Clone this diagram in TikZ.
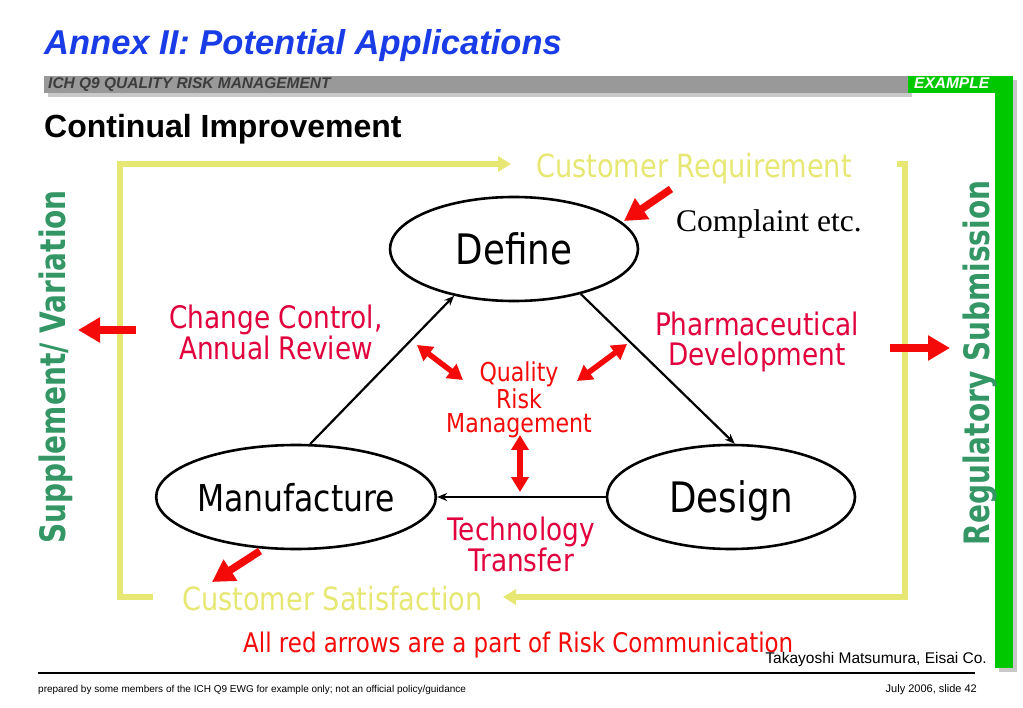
\documentclass[tikz,border=0pt]{standalone}
\usepackage{fontspec}
\setmainfont{Liberation Sans}
\newfontfamily\tahoma[FakeStretch=0.85]{DejaVu Sans}
\newfontfamily\tahomabf[FakeStretch=0.8]{DejaVu Sans}
\newfontfamily\timesfont{Liberation Serif}
\usetikzlibrary{arrows.meta,shapes.geometric}

\newcommand\sz[2]{\fontsize{#1}{#2}\selectfont}

\definecolor{titleblue}{RGB}{25,60,230}
\definecolor{barGray}{RGB}{153,153,153}
\definecolor{shadowGray}{RGB}{200,200,200}
\definecolor{hdrText}{RGB}{60,60,60}
\definecolor{exGreen}{RGB}{0,200,0}
\definecolor{loopYellow}{RGB}{230,232,115}
\definecolor{sideGreen}{RGB}{51,150,100}
\definecolor{riskRed}{RGB}{245,10,10}
\definecolor{labelRed}{RGB}{225,0,60}

\begin{document}
\begin{tikzpicture}[x=1pt, y=-1pt,
    stage/.style={ellipse, draw, line width=2.6pt, minimum width=248pt,
      minimum height=104pt, inner sep=0pt, text depth=0pt},
    flow/.style={line width=2.2pt, -{Stealth[length=10pt,width=8pt]}},
    loopline/.style={loopYellow, line width=5.5pt},
    loopend/.style={loopline, -{Triangle[length=13pt,width=15pt]}},
    comm/.style={riskRed, line width=7.5pt, -{Triangle[length=22pt,width=24pt]}},
    talk/.style={riskRed, line width=5.5pt,
      {Triangle[length=15pt,width=17pt]}-{Triangle[length=15pt,width=17pt]}},
    steplabel/.style={labelRed, anchor=north, inner sep=0pt, align=center,
      font=\tahoma\sz{31}{30}},
    plain/.style={inner sep=0pt}]

  % --- page ---
  \useasboundingbox (0,0) rectangle (1023,708);
  \fill[white] (0,0) rectangle (1023,708);

  % --- header bar and green frame ---
  \fill[shadowGray] (48,80) rectangle (912,97);
  \fill[barGray] (44,76) rectangle (908,93);
  \fill[shadowGray] (999,80) rectangle (1017,672);
  \fill[exGreen] (908,76) rectangle (1013,93);
  \fill[exGreen] (995,76) rectangle (1013,668);

  \node[plain, anchor=base west, titleblue, font=\bfseries\itshape\sz{34.5}{40}]
    (title) at (44,55) {Annex II: Potential Applications};
  \node[plain, anchor=base west, hdrText, font=\bfseries\itshape\sz{15.5}{18}]
    (hdr) at (48,88.5) {ICH Q9 QUALITY RISK MANAGEMENT};
  \node[plain, anchor=base west, white, font=\bfseries\itshape\sz{15.5}{18}]
    (ex) at (914,88.5) {EXAMPLE};
  \node[plain, anchor=base west, font=\bfseries\sz{32}{38}]
    (sub) at (44,138) {Continual Improvement};

  % --- yellow customer loop ---
  \draw[loopend] (153,597) -- (120,597) -- (120,164) -- (511,164);
  \draw[loopend] (897,164) -- (905,164) -- (905,597) -- (503,597);
  \node[plain, anchor=base west, loopYellow, font=\tahoma\sz{32}{38}]
    (req) at (536,178) {Customer Requirement};
  \node[plain, anchor=base west, loopYellow, font=\tahoma\sz{32}{38}]
    (sat) at (182,610) {Customer Satisfaction};

  % --- side labels ---
  \node[plain, rotate=90, anchor=base, sideGreen, font=\tahomabf\bfseries\sz{35}{40}]
    (supp) at (65,367) {Supplement/ Variation};
  \node[plain, rotate=90, anchor=base, sideGreen, font=\tahomabf\bfseries\sz{35}{40}]
    (reg) at (989,363) {Regulatory Submission};

  % --- the cycle ---
  \node[stage, font=\tahoma\sz{42}{50}] (def) at (514,249) {Define};
  \node[stage, font=\tahoma\sz{37}{44}] (man) at (296,497) {Manufacture};
  \node[stage, font=\tahoma\sz{42}{50}] (des) at (731,497) {Design};

  \draw[flow] (man.75) -- (def.218);
  \draw[flow] (def.326) -- (des.86);
  \draw[flow] (des.west) -- (man.east);

  \node[steplabel] (chg) at (276,304.5) {Change Control,\\Annual Review};
  \node[steplabel] (pha) at (757,311.5) {Pharmaceutical\\Development};
  \node[steplabel] (tec) at (521,516.5) {Technology\\Transfer};
  \node[steplabel, riskRed, font=\tahoma\sz{26}{24}]
    (qrm) at (519,362) {Quality\\Risk\\Management};

  \node[plain, anchor=base west, font=\timesfont\sz{31.5}{36}]
    (cmp) at (676,232) {Complaint etc.};

  % --- red arrows (risk communication) ---
  \coordinate (ccTail) at (136,330);  \coordinate (ccTip) at (78,330);
  \coordinate (rsTail) at (890,348);  \coordinate (rsTip) at (950,348);
  \coordinate (cpTail) at (671,189);  \coordinate (cpTip) at (624,221);
  \coordinate (csTail) at (260,551);  \coordinate (csTip) at (212,582);
  \draw[comm] (ccTail) -- (ccTip);
  \draw[comm] (rsTail) -- (rsTip);
  \draw[comm] (cpTail) -- (cpTip);
  \draw[comm] (csTail) -- (csTip);

  \coordinate (qlA) at (417,345);  \coordinate (qlB) at (463,380);
  \coordinate (qrA) at (577,381);  \coordinate (qrB) at (627,344);
  \coordinate (qdA) at (520,435);  \coordinate (qdB) at (520,492);
  \draw[talk] (qlA) -- (qlB);
  \draw[talk] (qrA) -- (qrB);
  \draw[talk] (qdA) -- (qdB);

  \node[plain, anchor=base west, riskRed, font=\tahoma\sz{27}{32}]
    (note) at (243,652) {All red arrows are a part of Risk Communication};

  % --- footer ---
  \node[plain, anchor=base east, font=\sz{15.5}{18}]
    (auth) at (987,663) {Takayoshi Matsumura, Eisai Co.};
  \draw[line width=1.2pt] (38,673) -- (975,673);
  \node[plain, anchor=base west, font=\sz{10}{12}] (prep) at (38,692)
    {prepared by some members of the ICH Q9 EWG for example only; not an official policy/guidance};
  \node[plain, anchor=base east, font=\sz{11}{13}] (slide) at (977,692)
    {July 2006, slide 42};

\end{tikzpicture}
\end{document}
